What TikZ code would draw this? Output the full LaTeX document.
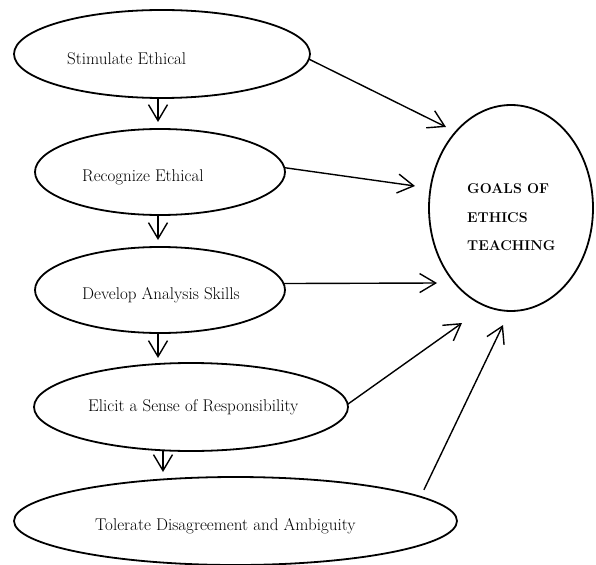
\documentclass[tikz,border=0pt]{standalone}
\usepackage{fontspec}
\usetikzlibrary{shapes.geometric,arrows.meta}
\begin{document}
\begin{tikzpicture}[x=1pt,y=-1pt,
  oval/.style={ellipse,draw,line width=1.8pt,inner sep=0pt,outer sep=0pt},
  lbl/.style={anchor=base west,inner sep=0pt,font=\fontsize{17}{20}\selectfont},
  goaltext/.style={anchor=base west,inner sep=0pt,font=\fontsize{14.2}{16}\selectfont\bfseries},
  arr/.style={line width=1.4pt,-{Straight Barb[length=16pt,width=19pt,line width=1.4pt]}}]
\useasboundingbox (0,0) rectangle (596,564);
% ovals
\node[oval,minimum width=296pt,minimum height=88pt] (e1) at (162,54) {};
\node[oval,minimum width=250pt,minimum height=86pt] (e2) at (160,172) {};
\node[oval,minimum width=250pt,minimum height=86pt] (e3) at (160,290) {};
\node[oval,minimum width=314pt,minimum height=88pt] (e4) at (191,407) {};
\node[oval,minimum width=443pt,minimum height=88pt] (e5) at (235.5,521) {};
\node[oval,minimum width=164pt,minimum height=206pt] (g) at (511,208) {};
% texts
\node[lbl] (t1) at (67,65) {Stimulate Ethical};
\node[lbl] (t2) at (82,181) {Recognize Ethical};
\node[lbl] (t3) at (82,299) {Develop Analysis Skills};
\node[lbl] (t4) at (88,411) {Elicit a Sense of Responsibility};
\node[lbl] (t5) at (95,530) {Tolerate Disagreement and Ambiguity};
\node[goaltext] (gt1) at (467,193) {GOALS OF};
\node[goaltext] (gt2) at (467,222) {ETHICS};
\node[goaltext] (gt3) at (467,250) {TEACHING};
% vertical arrows
\draw[arr] ([xshift=-4pt]e1.south) -- ([xshift=-2pt,yshift=7pt]e2.north);
\draw[arr] ([xshift=-2pt]e2.south) -- ([xshift=-2pt,yshift=7pt]e3.north);
\draw[arr] ([xshift=-2pt]e3.south) -- ([xshift=-33pt,yshift=5pt]e4.north);
\draw[arr] ([xshift=-28pt]e4.south) -- ([xshift=-72.5pt,yshift=5pt]e5.north);
% arrows to goal
\coordinate (g1) at (446,127);
\coordinate (g2) at (415,186);
\coordinate (g3) at (437,283);
\coordinate (g4) at (462,323);
\coordinate (g5) at (503,325);
\draw[arr] (e1.-2) -- (g1);
\draw[arr] (e2.2) -- (g2);
\draw[arr] (e3.3) -- (g3);
\draw[arr] (e4.1.5) -- (g4);
\draw[arr] ([yshift=8pt]e5.7.7) -- (g5);
\end{tikzpicture}
\end{document}
